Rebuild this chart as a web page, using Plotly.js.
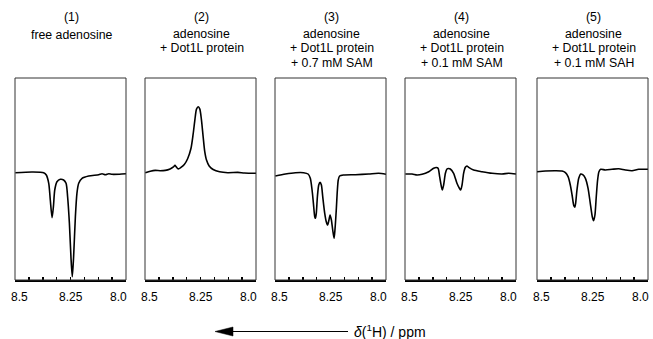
<!DOCTYPE html>
<html>
<head>
<meta charset="utf-8">
<script src="https://cdn.plot.ly/plotly-3.0.1.min.js"></script>
<style>html,body{margin:0;padding:0;background:#fff;}#chart{width:653px;height:339px;}</style>
</head>
<body>
<div id="chart"></div>
<script>
// ---- data (chemical shift in ppm, intensity in arbitrary units) ----
const ppm1 = [8.4985,8.423,8.371,8.359,8.348,8.341,8.333,8.327,8.321,8.311,8.296,8.281,8.270,8.263,8.255,8.248,8.242,8.236,8.228,8.221,8.213,8.198,8.168,8.123,8.108,8.093,8.078,8.063,8.03,8.0];
const int1 = [-0.7,0,-0.7,-3,-11.3,-28,-45.7,-34.7,-18,-9.7,-7.3,-8,-11.3,-24.7,-51.3,-84.7,-104.7,-84.7,-44.7,-21.3,-11.3,-6.3,-4,-2.7,-1.7,-2.7,-1.8,-2.3,-2.2,-1.8];

const ppm2 = [8.4985,8.476,8.454,8.432,8.409,8.387,8.372,8.365,8.359,8.350,8.338,8.323,8.308,8.293,8.283,8.275,8.268,8.260,8.253,8.246,8.238,8.231,8.223,8.211,8.193,8.164,8.127,8.082,8.052,8.0];
const int2 = [-0.7,0.8,1.6,1.3,1.6,3.1,5.1,6.6,5.1,3.1,4.6,7.5,13.3,23.5,38.1,52.7,62.9,65.3,62.9,52.7,35.2,20.6,11.9,6.0,2.5,0.2,-0.7,-0.4,-1.0,-1.3];

const ppm3 = [8.4985,8.453,8.408,8.371,8.351,8.341,8.333,8.327,8.321,8.318,8.314,8.309,8.303,8.297,8.291,8.285,8.276,8.269,8.263,8.257,8.252,8.246,8.240,8.234,8.230,8.224,8.219,8.215,8.209,8.191,8.138,8.078,8.033,8.0];
const int3 = [-4,-2,-0.7,-0.7,-2,-6.3,-18,-31.3,-44.7,-46.3,-41.3,-24.7,-13,-10.3,-13,-24.7,-41.3,-49.7,-53,-48,-43,-48,-58,-66.3,-58,-38,-18,-8,-4,-3,-2.7,-2,-1.3,-2.3];

const ppm4 = [8.4985,8.468,8.446,8.423,8.393,8.371,8.359,8.351,8.344,8.336,8.332,8.326,8.318,8.311,8.303,8.296,8.281,8.266,8.255,8.249,8.243,8.236,8.228,8.221,8.213,8.191,8.153,8.108,8.063,8.033,8.0];
const int4 = [-2,-2,-3,-2.3,0.3,3.7,4.5,3.7,-4.7,-14.7,-18,-13,-1.3,3,3.5,3,-1.3,-11.3,-16.3,-18,-13,-1.3,4.7,6,4.7,2,0.3,-1.3,-2,-1.3,-2];

const ppm5 = [8.5,8.462,8.417,8.387,8.372,8.360,8.350,8.342,8.335,8.330,8.326,8.320,8.312,8.303,8.294,8.282,8.270,8.260,8.251,8.245,8.239,8.233,8.227,8.221,8.213,8.192,8.162,8.132,8.102,8.072,8.042,8.0];
const int5 = [0.3,1,1.3,1,-0.7,-4.7,-13,-23,-33,-35.3,-31.3,-18,-6.3,-2,-2.7,-6.3,-16.3,-31.3,-44.7,-48.7,-43,-24.7,-8,0.3,2.7,2,2.7,3.3,2,1.3,2.7,2.7];

const panelNumbers = ["(1)","(2)","(3)","(4)","(5)"];
const panelLines = [
  ["free adenosine"],
  ["adenosine","+ Dot1L protein"],
  ["adenosine","+ Dot1L protein","+ 0.7 mM SAM"],
  ["adenosine","+ Dot1L protein","+ 0.1 mM SAM"],
  ["adenosine","+ Dot1L protein","+ 0.1 mM SAH"]
];
const tickVals = [8.5,8.4375,8.375,8.3125,8.25,8.1875,8.125,8.0625,8.0];
const labelVals = [8.5,8.25,8.0];
const labelText = ["8.5","8.25","8.0"];
const axisTitle = "<i>δ</i>(<sup>1</sup>H) / ppm";

// ---- layout ----
const W = 653, H = 339;
const panelLeft = [15,145,275,405,537];
const panelW = 111;
const plotTop = 78, plotBottom = 280;
const px = v => v / W;
const py = v => (H - v) / H;

const xs = [ppm1,ppm2,ppm3,ppm4,ppm5];
const ys = [int1,int2,int3,int4,int5];

const data = [];
const layout = {
  width: W, height: H,
  margin: {l:0,r:0,t:0,b:0},
  paper_bgcolor: '#fff', plot_bgcolor: '#fff',
  showlegend: false,
  font: {family: '"Liberation Sans", Arial, sans-serif', color: '#000', size: 12},
  annotations: [], shapes: []
};

for (let i = 0; i < 5; i++) {
  const n = i + 1;
  const xa = n === 1 ? 'x' : 'x' + n;
  const ya = n === 1 ? 'y' : 'y' + n;
  data.push({
    x: xs[i], y: ys[i], xaxis: xa, yaxis: ya,
    type: 'scatter', mode: 'lines',
    line: {color: '#000', width: 1.6, shape: 'spline', smoothing: 0.7},
    hoverinfo: 'skip'
  });
  const xkey = n === 1 ? 'xaxis' : 'xaxis' + n;
  const ykey = n === 1 ? 'yaxis' : 'yaxis' + n;
  layout[xkey] = {
    domain: [px(panelLeft[i]), px(panelLeft[i] + panelW)],
    anchor: ya,
    range: [8.5, 8.0],
    tickmode: 'array', tickvals: tickVals,
    showticklabels: false,
    ticks: 'inside', ticklen: 3, tickwidth: 1.5, tickcolor: '#000',
    showline: true, linecolor: '#000', linewidth: 2,
    showgrid: false, zeroline: false, fixedrange: true
  };
  layout[ykey] = {
    domain: [py(plotBottom), py(plotTop)],
    anchor: xa,
    range: [-108, 94],
    showticklabels: false, ticks: '', showgrid: false, zeroline: false,
    showline: false, fixedrange: true
  };
  layout.shapes.push({
    type: 'rect', xref: xa + ' domain', yref: ya + ' domain',
    x0: 0, x1: 1, y0: 0, y1: 1,
    line: {color: '#333', width: 1}, layer: 'above'
  });
  // tick labels
  const shifts = [4, 0, -8];
  labelVals.forEach((v, k) => {
    layout.annotations.push({
      xref: xa, yref: 'paper', x: v, y: py(296.5),
      xshift: shifts[k], text: labelText[k], showarrow: false,
      xanchor: 'center', yanchor: 'middle', font: {size: 12}
    });
  });
  // panel titles
  const cx = px(panelLeft[i] + panelW / 2 + 1);
  layout.annotations.push({
    xref: 'paper', yref: 'paper', x: cx, y: py(17),
    text: panelNumbers[i], showarrow: false, xanchor: 'center', yanchor: 'middle',
    font: {size: 12.3}
  });
  const firstY = panelLines[i].length === 1 ? 35.5 : 34;
  panelLines[i].forEach((t, k) => {
    layout.annotations.push({
      xref: 'paper', yref: 'paper', x: cx, y: py(firstY + k * 14.5),
      text: t, showarrow: false, xanchor: 'center', yanchor: 'middle',
      font: {size: 12.3}
    });
  });
}

// axis direction arrow + title
const ay = 331.5;
layout.shapes.push({
  type: 'line', xref: 'paper', yref: 'paper',
  x0: px(230), x1: px(348), y0: py(ay), y1: py(ay),
  line: {color: '#000', width: 1}
});
layout.shapes.push({
  type: 'path', xref: 'paper', yref: 'paper',
  path: `M ${px(215)} ${py(ay)} L ${px(233)} ${py(ay - 4.5)} L ${px(233)} ${py(ay + 4.5)} Z`,
  fillcolor: '#000', line: {color: '#000', width: 0.5}
});
layout.annotations.push({
  xref: 'paper', yref: 'paper', x: px(352), y: py(ay - 1),
  text: axisTitle, showarrow: false, xanchor: 'left', yanchor: 'middle',
  font: {size: 14}
});

Plotly.newPlot('chart', data, layout, {staticPlot: true, displayModeBar: false});
</script>
</body>
</html>
